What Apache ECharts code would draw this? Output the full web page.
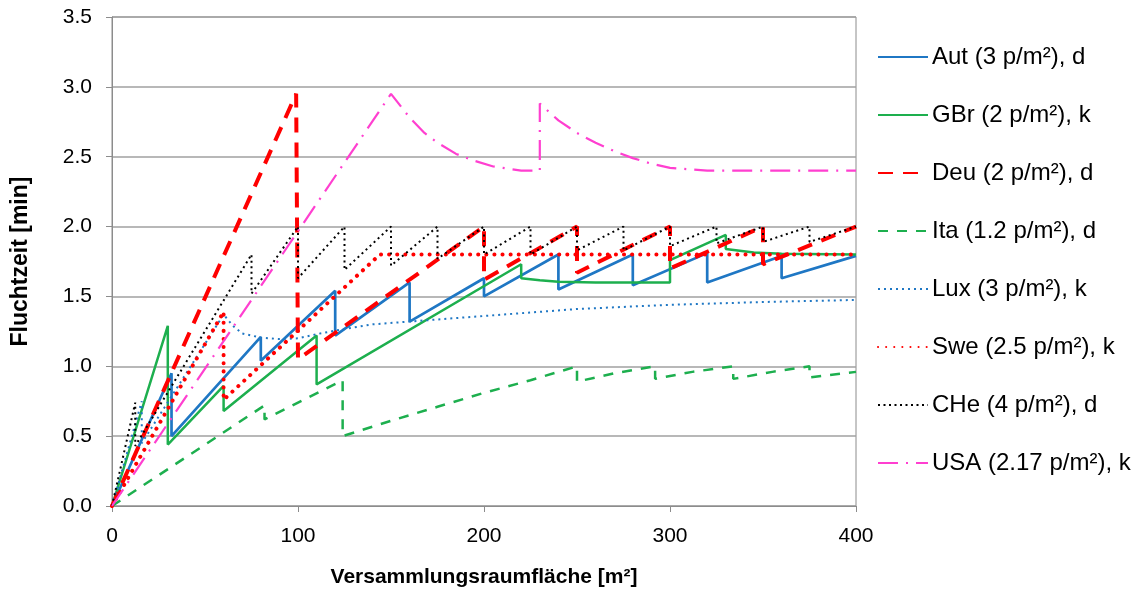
<!DOCTYPE html>
<html>
<head>
<meta charset="utf-8">
<script src="https://cdn.jsdelivr.net/npm/echarts@6/dist/echarts.min.js"></script>
<style>
  html, body { margin: 0; padding: 0; background: #fff; }
  #main { width: 1145px; height: 593px; }
</style>
</head>
<body>
<div id="main"></div>
<script>
// [Fläche m², Fluchtzeit min] – vertikale Sprünge als doppelte x-Werte
var autData = [[0, 0], [32, 0.95], [32, 0.5], [80, 1.21], [80, 1.04], [120, 1.54], [120, 1.22], [160, 1.6], [160, 1.32], [200, 1.63], [200, 1.5], [240, 1.8], [240, 1.55], [280, 1.8], [280, 1.58], [320, 1.81], [320, 1.6], [360, 1.79], [360, 1.63], [400, 1.79]]
var gbrData = [[0, 0], [30, 1.29], [30, 0.44], [60, 0.86], [60, 0.68], [110, 1.22], [110, 0.87], [220, 1.73], [220, 1.63], [230, 1.615], [240, 1.605], [260, 1.6], [300, 1.6], [300, 1.76], [330, 1.94], [330, 1.84], [345, 1.815], [360, 1.805], [400, 1.8]]
var deuData = [[0, 0], [99, 2.95], [100, 2.95], [100, 1.05], [200, 2.0], [200, 1.62], [250, 2.0], [250, 1.67], [300, 2.0], [300, 1.7], [350, 2.0], [350, 1.73], [400, 2.0]]
var itaData = [[0, 0], [82, 0.72], [82, 0.62], [124, 0.9], [124, 0.5], [150, 0.61], [175, 0.71], [200, 0.81], [225, 0.9], [250, 1.0], [250, 0.89], [270, 0.95], [292, 1.0], [292, 0.91], [312, 0.96], [334, 1.0], [334, 0.91], [355, 0.96], [375, 1.0], [375, 0.92], [400, 0.96]]
var luxData = [[0, 0], [16, 0.75], [16, 0.45], [60, 1.37], [65, 1.29], [70, 1.235], [80, 1.205], [90, 1.195], [100, 1.2], [110, 1.23], [122, 1.26], [140, 1.3], [160, 1.32], [200, 1.36], [250, 1.41], [300, 1.44], [350, 1.46], [400, 1.475]]
var sweData = [[0, 0], [60, 1.39], [60, 0.76], [144, 1.8], [400, 1.8]]
var cheData = [[0, 0], [12.5, 0.74], [12.5, 0.43], [75, 1.8], [75, 1.52], [100, 2.0], [100, 1.63], [125, 2.0], [125, 1.69], [150, 2.0], [150, 1.72], [175, 2.0], [175, 1.77], [200, 2.0], [200, 1.8], [225, 2.0], [225, 1.8], [250, 2.0], [250, 1.83], [275, 2.0], [275, 1.83], [300, 2.0], [300, 1.86], [325, 2.0], [325, 1.88], [350, 2.0], [350, 1.89], [375, 2.0], [375, 1.89], [400, 2.0]]
var usaData = [[0, 0], [150, 2.95], [160, 2.78], [168, 2.67], [175, 2.6], [185, 2.52], [195, 2.47], [205, 2.43], [215, 2.41], [220, 2.4], [230, 2.4], [230, 2.88], [240, 2.76], [250, 2.67], [260, 2.6], [270, 2.54], [280, 2.49], [290, 2.45], [300, 2.42], [310, 2.41], [320, 2.4], [400, 2.4]]

var seriesNames = ['Aut (3 p/m²), d', 'GBr (2 p/m²), k', 'Deu (2 p/m²), d', 'Ita (1.2 p/m²), d', 'Lux (3 p/m²), k', 'Swe (2.5 p/m²), k', 'CHe (4 p/m²), d', 'USA (2.17 p/m²), k']
var yTicks = [0, 0.5, 1, 1.5, 2, 2.5, 3, 3.5]
var xTicks = [0, 100, 200, 300, 400]

var font = 'Liberation Sans, Arial, sans-serif'

function line (name, data, color, width, type, cap) {
  return {
    name: name,
    type: 'line',
    data: data,
    symbol: 'none',
    animation: false,
    lineStyle: { color: color, width: width, type: type, cap: cap || 'butt' },
    itemStyle: { color: color }
  }
}

var chart = echarts.init(document.getElementById('main'))
chart.setOption({
  backgroundColor: '#fff',
  textStyle: { fontFamily: font },
  grid: {
    left: 112,
    right: 289,
    top: 17,
    bottom: 85,
    show: true,
    borderColor: '#8c8c8c',
    borderWidth: 1
  },
  legend: {
    orient: 'vertical',
    left: 872,
    top: 40,
    itemGap: 34,
    itemWidth: 50,
    itemHeight: 14,
    // nur die Linie zeigen, kein Punktsymbol
    itemStyle: { opacity: 0 },
    textStyle: { fontSize: 24, color: '#000', fontFamily: font, padding: [0, 0, 0, -1] },
    data: seriesNames
  },
  xAxis: {
    type: 'value',
    min: xTicks[0],
    max: xTicks[xTicks.length - 1],
    interval: 100,
    name: 'Versammlungsraumfläche [m²]',
    nameLocation: 'middle',
    nameGap: 61,
    nameTextStyle: { fontSize: 21, fontWeight: 'bold', color: '#000' },
    axisLine: { lineStyle: { color: '#8c8c8c', width: 1 } },
    axisTick: { show: true, length: 6, lineStyle: { color: '#8c8c8c' } },
    axisLabel: { fontSize: 21, color: '#000', margin: 20 },
    splitLine: { show: false }
  },
  yAxis: {
    type: 'value',
    min: yTicks[0],
    max: yTicks[yTicks.length - 1],
    interval: 0.5,
    name: 'Fluchtzeit [min]',
    nameLocation: 'middle',
    nameGap: 80,
    nameTextStyle: { fontSize: 23, fontWeight: 'bold', color: '#000' },
    axisLine: { show: true, lineStyle: { color: '#8c8c8c', width: 1 } },
    axisTick: { show: true, length: 6, lineStyle: { color: '#8c8c8c' } },
    axisLabel: {
      fontSize: 21,
      color: '#000',
      margin: 20,
      formatter: function (v) { return v.toFixed(1) }
    },
    splitLine: { show: true, lineStyle: { color: '#a0a0a0', width: 1.5 } }
  },
  series: [
    line(seriesNames[0], autData, '#1f77c4', 2.7, 'solid'),
    line(seriesNames[1], gbrData, '#1daf4e', 2.5, 'solid'),
    line(seriesNames[2], deuData, '#ff0000', 4, [15, 10]),
    line(seriesNames[3], itaData, '#1daf4e', 2.5, [10, 9]),
    line(seriesNames[4], luxData, '#1f77c4', 2, [2, 4]),
    line(seriesNames[5], sweData, '#ff0000', 4, [0.1, 8], 'round'),
    line(seriesNames[6], cheData, '#000000', 2, [2, 3.5]),
    line(seriesNames[7], usaData, '#ff3fd0', 2.2, [20, 8, 2, 8])
  ]
})
</script>
</body>
</html>
